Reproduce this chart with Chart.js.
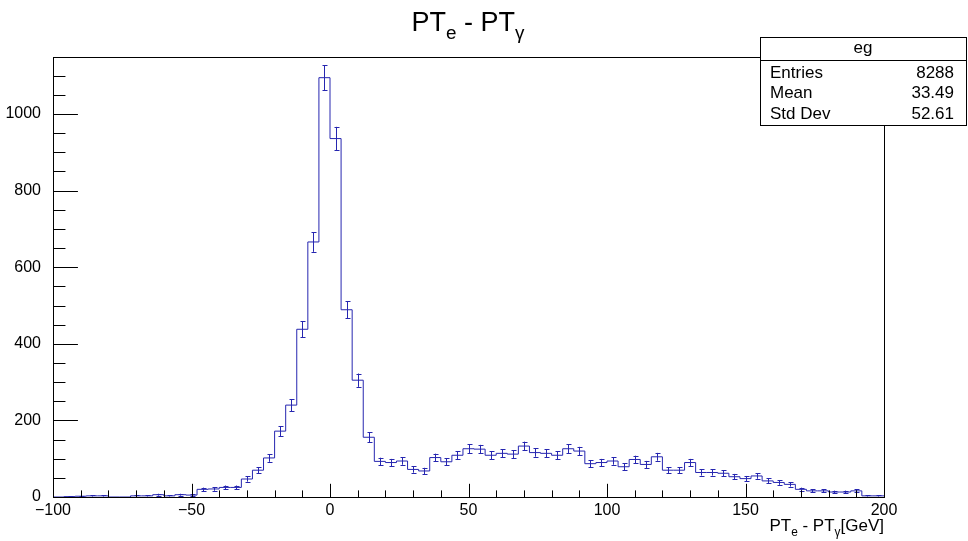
<!DOCTYPE html>
<html>
<head>
<meta charset="utf-8">
<script src="https://cdn.jsdelivr.net/npm/chart.js@4.4.0/dist/chart.umd.min.js"></script>
<style>
  html, body { margin: 0; padding: 0; background: #fff; }
</style>
</head>
<body>
<canvas id="c" width="968" height="541"></canvas>
<script>
// histogram "eg" : PT_e - PT_gamma, 75 bins of 4 GeV from -100 to 200
const binLow = -100;
const binWidth = 4;
const counts = [
    0, 1, 2, 3, 3, 0, 0, 3, 3, 6, 3, 6, 5,
    20, 21, 25, 25, 47, 70, 102, 172, 240,
    438, 666, 1095, 936, 489, 305, 156, 93,
    90, 94, 72, 68, 103, 92, 109, 126, 125, 109, 114, 112, 133, 116, 114, 109, 126, 120, 87, 90, 94, 79,
    98, 85, 105, 70, 70, 90, 64, 64, 62, 53, 48, 55, 42, 38, 33, 20, 16, 16, 13, 13, 16, 3, 3
];
const xMajor = [-100, -50, 0, 50, 100, 150, 200];
const yMajor = [0, 200, 400, 600, 800, 1000];
const yMax = 1149;

const statsName = "eg";
const statsRows = [["Entries", "8288"], ["Mean", "33.49"], ["Std Dev", "52.61"]];

const FONT = '"Liberation Sans", Arial, Helvetica, sans-serif';
const lineColor = "#2626b0";

// step outline points at the low edge of each bin + closing point
let stepPoints = counts.map((v, i) => ({ x: binLow + i * binWidth, y: v }));
stepPoints.push({ x: binLow + counts.length * binWidth, y: counts[counts.length - 1] });
let binCenters = counts.map((v, i) => binLow + (i + 0.5) * binWidth);

// draw a string made of parts, some of them subscripts
function drawParts(ctx, parts, x, y, size, align) {
    let total = 0;
    parts.forEach(p => {
        ctx.font = (p.sub ? size * 0.7 : size) + "px " + FONT;
        p.w = ctx.measureText(p.t).width;
        total += p.w;
    });
    let cx = align === "right" ? x - total : align === "center" ? x - total / 2 : x;
    parts.forEach(p => {
        ctx.font = (p.sub ? size * 0.7 : size) + "px " + FONT;
        ctx.fillText(p.t, cx, p.sub ? y + size * 0.3 : y);
        cx += p.w;
    });
}

const rootLook = {
    id: "rootLook",
    afterDatasetsDraw(chart) {
        const ctx = chart.ctx;
        const x = chart.scales.x, y = chart.scales.y;
        ctx.save();
        ctx.strokeStyle = lineColor;
        ctx.lineWidth = 1;
        counts.forEach((v, i) => {
            if (v <= 0) return;
            let e = Math.sqrt(v);
            let px = Math.round(x.getPixelForValue(binCenters[i])) + 0.5;
            let top = y.getPixelForValue(v + e);
            let bot = y.getPixelForValue(Math.max(v - e, 0));
            ctx.beginPath();
            ctx.moveTo(px, top); ctx.lineTo(px, bot);
            ctx.moveTo(px - 2, Math.round(top) + 0.5); ctx.lineTo(px + 3, Math.round(top) + 0.5);
            ctx.moveTo(px - 2, Math.round(bot) + 0.5); ctx.lineTo(px + 3, Math.round(bot) + 0.5);
            ctx.stroke();
        });
        ctx.restore();
    },
    afterDraw(chart) {
        const ctx = chart.ctx;
        const a = chart.chartArea;
        const x = chart.scales.x, y = chart.scales.y;
        ctx.save();
        ctx.strokeStyle = "#000";
        ctx.lineWidth = 1;
        // frame
        ctx.strokeRect(Math.round(a.left) + 0.5, Math.round(a.top) + 0.5,
            Math.round(a.right - a.left), Math.round(a.bottom - a.top));

        // x ticks (inside, upward)
        let hx = (a.bottom - a.top) * 0.03;
        ctx.beginPath();
        for (let v = xMajor[0]; v <= xMajor[xMajor.length - 1]; v += 10) {
            let px = Math.round(x.getPixelForValue(v)) + 0.5;
            let len = v % 50 === 0 ? hx : hx / 2;
            ctx.moveTo(px, a.bottom); ctx.lineTo(px, a.bottom - len);
        }
        // y ticks (inside, rightward)
        let hy = (a.right - a.left) * 0.03;
        for (let v = 0; v <= yMax; v += 50) {
            let py = Math.round(y.getPixelForValue(v)) + 0.5;
            let len = v % 200 === 0 ? hy : hy / 2;
            ctx.moveTo(a.left, py); ctx.lineTo(a.left + len, py);
        }
        ctx.stroke();

        // title
        ctx.fillStyle = "#000";
        ctx.textBaseline = "alphabetic";
        drawParts(ctx, [{ t: "PT" }, { t: "e", sub: true }, { t: " - PT" }, { t: "\u03b3", sub: true }],
            468, 31, 27, "center");

        // x axis title
        drawParts(ctx, [{ t: "PT" }, { t: "e", sub: true }, { t: " - PT" }, { t: "\u03b3", sub: true }, { t: "[GeV]" }],
            a.right, 531, 17, "right");

        // stats box
        let bx = 760, by = 37, bw = 206, bh = 88;
        ctx.fillStyle = "#fff";
        ctx.fillRect(bx, by, bw, bh);
        ctx.strokeRect(bx + 0.5, by + 0.5, bw, bh);
        ctx.beginPath();
        ctx.moveTo(bx, by + 23.5); ctx.lineTo(bx + bw, by + 23.5);
        ctx.stroke();
        ctx.fillStyle = "#000";
        ctx.font = "17px " + FONT;
        ctx.textBaseline = "middle";
        ctx.textAlign = "center";
        ctx.fillText(statsName, bx + bw / 2, by + 11);
        statsRows.forEach((r, i) => {
            let ry = by + 36 + i * 20.5;
            ctx.textAlign = "left";
            ctx.fillText(r[0], bx + 10, ry);
            ctx.textAlign = "right";
            ctx.fillText(r[1], bx + bw - 12, ry);
        });
        ctx.restore();
    }
};

new Chart(document.getElementById("c"), {
    type: "line",
    data: {
        datasets: [{
            label: statsName,
            data: stepPoints,
            stepped: "before",
            borderColor: lineColor,
            borderWidth: 1,
            pointRadius: 0,
            fill: false,
        }]
    },
    options: {
        responsive: false,
        animation: false,
        layout: { padding: { left: 0, top: 57, right: 84, bottom: 0 } },
        plugins: {
            legend: { display: false },
            tooltip: { enabled: false },
            title: { display: false },
        },
        scales: {
            x: {
                type: "linear",
                min: xMajor[0],
                max: xMajor[xMajor.length - 1],
                afterFit: (s) => { s.height = 44; },
                afterBuildTicks: (s) => { s.ticks = xMajor.map(v => ({ value: v })); },
                grid: { display: false, drawTicks: false },
                border: { display: false },
                ticks: {
                    padding: 4,
                    color: "#000",
                    font: { family: FONT, size: 16 },
                    maxRotation: 0,
                    autoSkip: false,
                    callback: (v) => (v < 0 ? "\u2212" + Math.abs(v) : String(v)),
                },
            },
            y: {
                type: "linear",
                min: 0,
                max: yMax,
                afterFit: (s) => { s.width = 53; },
                afterBuildTicks: (s) => { s.ticks = yMajor.map(v => ({ value: v })); },
                grid: { display: false, drawTicks: false },
                border: { display: false },
                ticks: {
                    padding: 12,
                    color: "#000",
                    font: { family: FONT, size: 16 },
                    callback: (v) => String(v),
                },
            },
        },
    },
    plugins: [rootLook],
});
</script>
</body>
</html>
